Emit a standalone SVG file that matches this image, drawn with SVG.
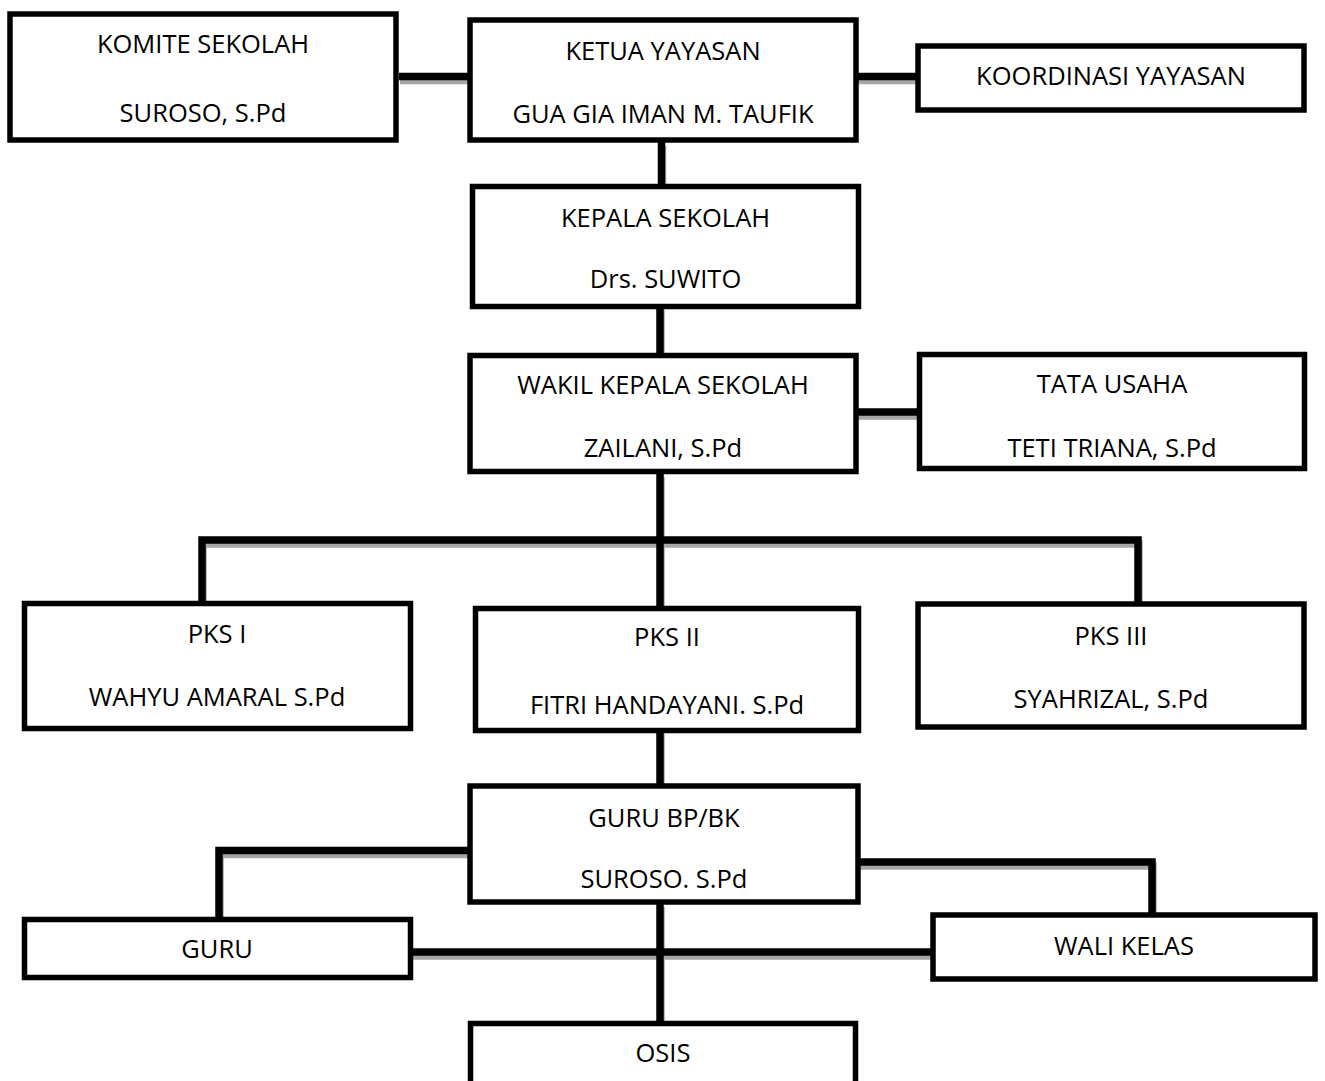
<svg xmlns="http://www.w3.org/2000/svg" width="1325" height="1081" viewBox="0 0 1325 1081">
<style>
.box{fill:#fff;stroke:#000;stroke-width:5.5}
.lbl{font-family:"Open Sans","Noto Sans","Liberation Sans",sans-serif;font-size:25.5px;fill:#000;text-anchor:middle}
.con{fill:none;stroke:#000;stroke-width:7.5;stroke-linejoin:miter;stroke-linecap:butt}
.sh{fill:none;stroke:#a6a6a6;stroke-width:7.5;stroke-linejoin:miter;stroke-linecap:butt}
</style>
<rect width="1325" height="1081" fill="#fff"/>
<g id="connectors">
<g transform="translate(1,4)">
<path class="sh" d="M399,76.5 H468"/>
<path class="sh" d="M857,76.5 H917"/>
<path class="sh" d="M661.5,142 V186"/>
<path class="sh" d="M660,306 V354"/>
<path class="sh" d="M857,412 H918"/>
<path class="sh" d="M660,473 V606"/>
<path class="sh" d="M202,602 V540 H1138 V603"/>
<path class="sh" d="M660,730 V786"/>
<path class="sh" d="M470,850.5 H219 V918"/>
<path class="sh" d="M859,862 H1152 V914"/>
<path class="sh" d="M412,952 H932"/>
<path class="sh" d="M660,903 V1023"/>
</g>
<path class="con" d="M399,76.5 H468"/>
<path class="con" d="M857,76.5 H917"/>
<path class="con" d="M661.5,142 V186"/>
<path class="con" d="M660,306 V354"/>
<path class="con" d="M857,412 H918"/>
<path class="con" d="M660,473 V606"/>
<path class="con" d="M202,602 V540 H1138 V603"/>
<path class="con" d="M660,730 V786"/>
<path class="con" d="M470,850.5 H219 V918"/>
<path class="con" d="M859,862 H1152 V914"/>
<path class="con" d="M412,952 H932"/>
<path class="con" d="M660,903 V1023"/>
</g>
<g id="komite"><rect class="box" x="10" y="14" width="386" height="126"/><text class="lbl" x="203" y="53">KOMITE SEKOLAH</text><text class="lbl" x="203" y="122">SUROSO, S.Pd</text></g>
<g id="ketua"><rect class="box" x="470" y="20" width="386" height="120"/><text class="lbl" x="663" y="60">KETUA YAYASAN</text><text class="lbl" x="663" y="123">GUA GIA IMAN M. TAUFIK</text></g>
<g id="koordinasi"><rect class="box" x="918" y="46" width="386" height="64"/><text class="lbl" x="1111" y="85">KOORDINASI YAYASAN</text></g>
<g id="kepala"><rect class="box" x="472.5" y="186.5" width="386" height="120"/><text class="lbl" x="665.5" y="227">KEPALA SEKOLAH</text><text class="lbl" x="665.5" y="288">Drs. SUWITO</text></g>
<g id="wakil"><rect class="box" x="470" y="355.5" width="386" height="116"/><text class="lbl" x="663" y="394">WAKIL KEPALA SEKOLAH</text><text class="lbl" x="663" y="457">ZAILANI, S.Pd</text></g>
<g id="tatausaha"><rect class="box" x="919.5" y="354.5" width="385" height="114"/><text class="lbl" x="1112" y="393">TATA USAHA</text><text class="lbl" x="1112" y="457">TETI TRIANA, S.Pd</text></g>
<g id="pks1"><rect class="box" x="24.5" y="603.5" width="386" height="125"/><text class="lbl" x="217" y="643">PKS I</text><text class="lbl" x="217" y="706">WAHYU AMARAL S.Pd</text></g>
<g id="pks2"><rect class="box" x="475.5" y="608.5" width="383" height="122"/><text class="lbl" x="667" y="646">PKS II</text><text class="lbl" x="667" y="714">FITRI HANDAYANI. S.Pd</text></g>
<g id="pks3"><rect class="box" x="918" y="604" width="386" height="123"/><text class="lbl" x="1111" y="645">PKS III</text><text class="lbl" x="1111" y="708">SYAHRIZAL, S.Pd</text></g>
<g id="gurubp"><rect class="box" x="470" y="786" width="388" height="116"/><text class="lbl" x="664" y="827">GURU BP/BK</text><text class="lbl" x="664" y="888">SUROSO. S.Pd</text></g>
<g id="guru"><rect class="box" x="24.5" y="919.5" width="386" height="58"/><text class="lbl" x="217" y="958">GURU</text></g>
<g id="walikelas"><rect class="box" x="933" y="915" width="382" height="64"/><text class="lbl" x="1124" y="955">WALI KELAS</text></g>
<g id="osis"><rect class="box" x="470.5" y="1023.5" width="385" height="80"/><text class="lbl" x="663" y="1062">OSIS</text></g>
</svg>
